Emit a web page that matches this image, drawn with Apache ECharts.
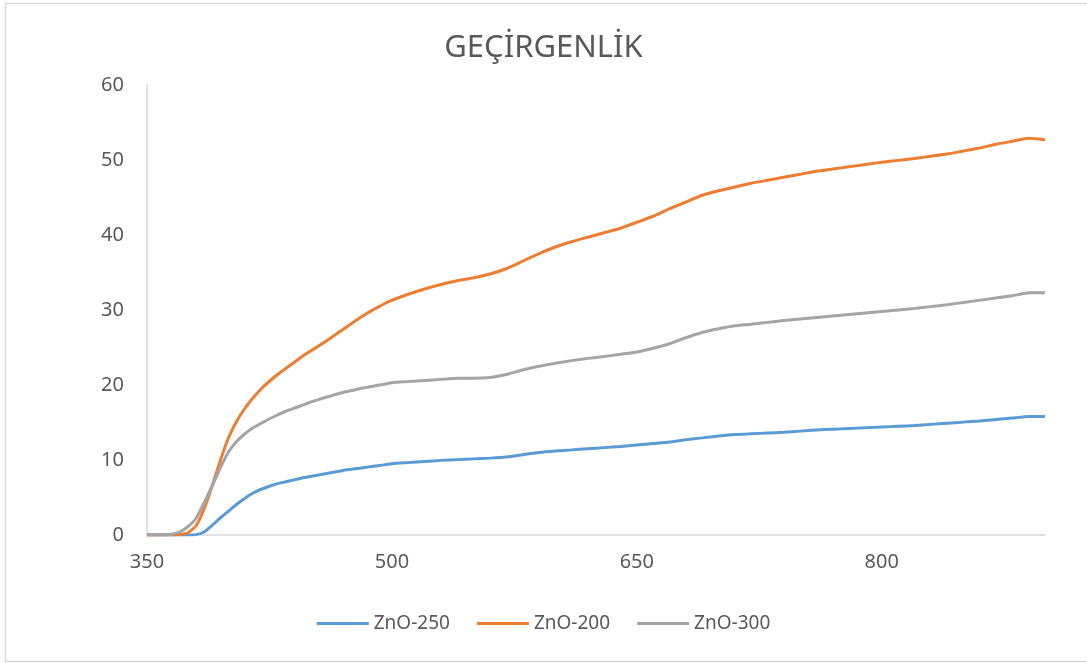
<!DOCTYPE html>
<html>
<head>
<meta charset="utf-8">
<script src="https://cdn.jsdelivr.net/npm/echarts@6/dist/echarts.min.js"></script>
<style>
html,body{margin:0;padding:0;background:#fff;}
#c{width:1087px;height:663px;}
</style>
</head>
<body>
<div id="c"></div>
<script>
const titleText = "GEÇİRGENLİK";
const seriesNames = ["ZnO-250", "ZnO-200", "ZnO-300"];
const wavelengths = [350,355,360,365,370,375,380,385,390,395,400,405,410,415,420,425,430,435,440,445,450,455,460,465,470,475,480,485,490,495,500,
  510,520,530,540,550,560,570,580,590,600,610,620,630,640,650,660,670,680,690,700,710,720,730,740,750,760,770,780,790,800,810,820,830,840,850,860,870,880,890,900];
const zno250 = [0,0,0,0,0,0,0.05,0.4,1.3,2.3,3.2,4.1,4.9,5.6,6.1,6.5,6.85,7.1,7.35,7.6,7.8,8.0,8.2,8.4,8.6,8.75,8.9,9.05,9.2,9.35,9.5,
  9.65,9.8,9.95,10.05,10.15,10.25,10.4,10.7,11.0,11.2,11.35,11.5,11.65,11.8,12.0,12.2,12.4,12.7,12.95,13.2,13.4,13.5,13.6,13.7,13.85,14.0,14.1,14.2,14.3,14.4,14.5,14.6,14.75,14.9,15.05,15.2,15.4,15.6,15.8,15.8];
const zno200 = [0,0,0,0,0.05,0.3,1.2,3.5,6.6,10.0,13.0,15.2,16.9,18.3,19.5,20.5,21.4,22.2,23.0,23.8,24.5,25.2,25.9,26.65,27.4,28.15,28.9,29.6,30.2,30.8,31.3,
  32.1,32.8,33.4,33.9,34.3,34.8,35.5,36.5,37.5,38.4,39.1,39.7,40.3,40.9,41.7,42.5,43.5,44.4,45.3,45.9,46.4,46.9,47.3,47.7,48.1,48.5,48.8,49.1,49.4,49.7,49.95,50.2,50.5,50.8,51.2,51.6,52.1,52.5,52.9,52.7];
const zno300 = [0,0,0,0.1,0.4,1.1,2.2,4.3,6.6,9.0,11.1,12.5,13.5,14.3,14.9,15.5,16.0,16.5,16.9,17.3,17.7,18.05,18.4,18.7,19.0,19.25,19.5,19.7,19.9,20.1,20.3,
  20.45,20.6,20.75,20.9,20.9,21.0,21.4,22.0,22.5,22.9,23.25,23.55,23.8,24.1,24.4,24.9,25.5,26.3,27.0,27.5,27.9,28.1,28.35,28.6,28.8,29.0,29.2,29.4,29.6,29.8,30.0,30.2,30.45,30.7,31.0,31.3,31.6,31.9,32.3,32.3];
const colors = ["#5B9BD5", "#ED7D31", "#A5A5A5"];
const allValues = [zno250, zno200, zno300];

const font = '"Noto Sans", "Open Sans", sans-serif';
const chart = echarts.init(document.getElementById('c'));
chart.setOption({
  animation: false,
  backgroundColor: '#fff',
  graphic: [{
    type: 'rect', silent: true, z: -1,
    shape: {x: 5.5, y: 3.5, width: 1085, height: 658},
    style: {fill: 'none', stroke: '#D9D9D9', lineWidth: 1.5}
  }],
  title: {
    text: titleText, left: 'center', top: 28,
    textStyle: {fontFamily: font, fontSize: 31, fontWeight: 'normal', color: '#595959'}
  },
  legend: {
    data: seriesNames, top: 609, left: 'center',
    icon: 'rect', itemWidth: 52, itemHeight: 3, itemGap: 27,
    textStyle: {fontFamily: font, fontSize: 19, color: '#595959'}
  },
  grid: {left: 147, right: 42, top: 85, bottom: 128, containLabel: false},
  xAxis: {
    type: 'value', min: 350, max: 900, interval: 150,
    axisLine: {show: true, lineStyle: {color: '#D9D9D9', width: 1.5}},
    axisTick: {show: false},
    splitLine: {show: false},
    axisLabel: {fontFamily: font, fontSize: 20, color: '#595959', margin: 17, showMaxLabel: false}
  },
  yAxis: {
    type: 'value', min: 0, max: 60, interval: 10,
    axisLine: {show: true, lineStyle: {color: '#D9D9D9', width: 1.5}},
    axisTick: {show: false},
    splitLine: {show: false},
    axisLabel: {fontFamily: font, fontSize: 20, color: '#595959', margin: 23}
  },
  series: seriesNames.map((n, i) => ({
    name: n, type: 'line', showSymbol: false, smooth: 0.15,
    color: colors[i],
    lineStyle: {width: 3, color: colors[i]},
    data: wavelengths.map((w, k) => [w, allValues[i][k]])
  }))
});
</script>
</body>
</html>
